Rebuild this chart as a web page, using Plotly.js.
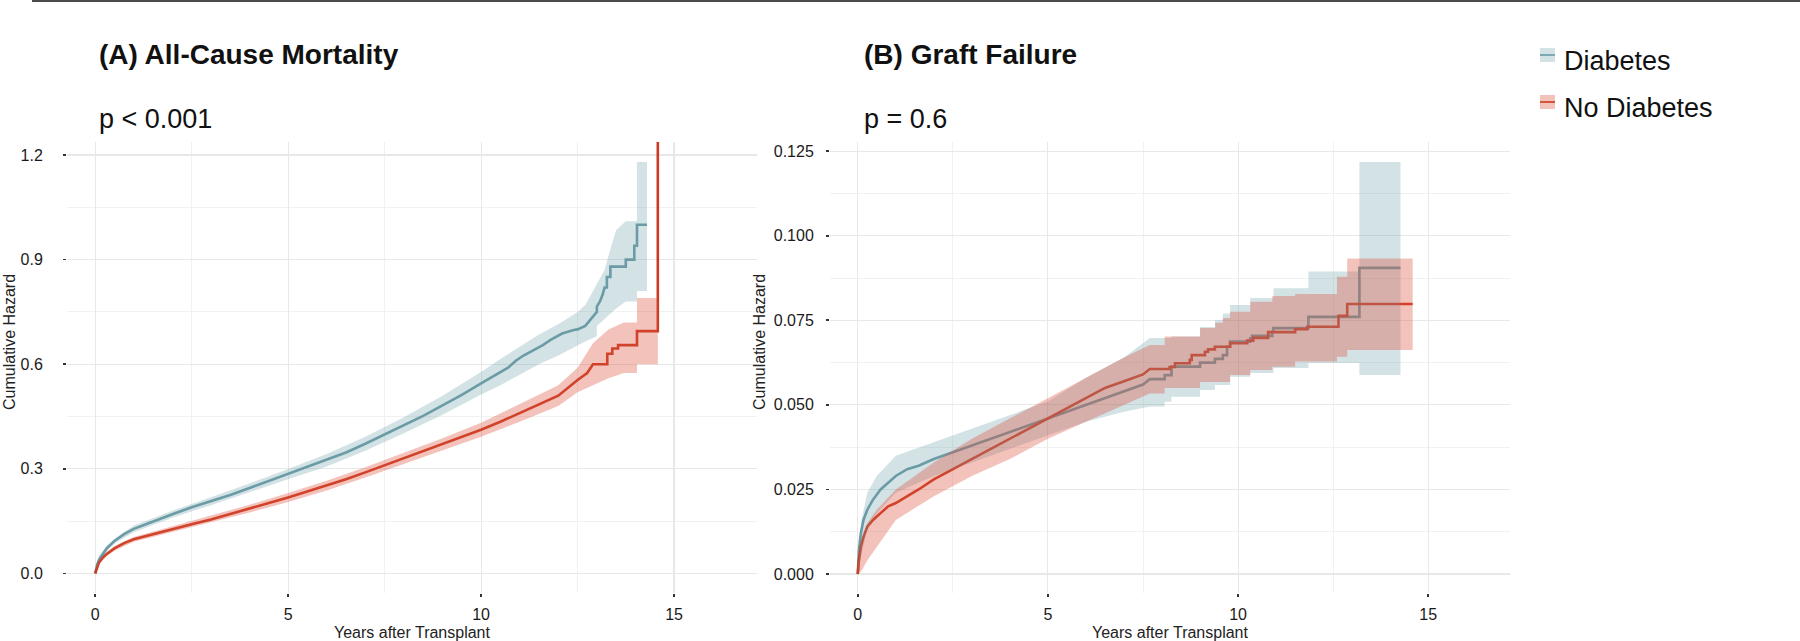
<!DOCTYPE html>
<html>
<head>
<meta charset="utf-8">
<script src="https://cdn.plot.ly/plotly-3.0.1.min.js"></script>
<style>
  html, body { margin: 0; padding: 0; background: #ffffff; }
  #chart { width: 1800px; height: 641px; }
</style>
</head>
<body>
<div id="chart"></div>
<script>
// ---------------- DATA ----------------
const groupLabels = ['Diabetes', 'No Diabetes'];
const panelTitles = ['(A) All-Cause Mortality', '(B) Graft Failure'];
const pValues = ['p < 0.001', 'p = 0.6'];
const xTickVals = [0, 5, 10, 15];
const yTickValsA = [0, 0.3, 0.6, 0.9, 1.2];
const yTickValsB = [0, 0.025, 0.05, 0.075, 0.1, 0.125];

// (A) All-cause mortality, Diabetes
const mortDiabT = [0,0.05,0.1,0.2,0.3,0.5,0.75,1,1.5,2,2.5,3,3.5,4,4.5,5,5.5,6,6.5,7,7.5,8,8.5,9,9.5,10,10.5,10.7,10.9,11.1,11.35,11.6,11.8,12.1,12.4,12.5,12.7,12.85,13.0,13.0,13.08,13.15,13.2,13.26,13.26,13.35,13.35,13.75,13.75,13.97,13.97,14.04,14.04,14.3];
const mortDiabH = [0,0.025,0.04,0.058,0.072,0.093,0.113,0.128,0.150,0.170,0.190,0.207,0.225,0.245,0.265,0.285,0.305,0.325,0.347,0.372,0.398,0.425,0.452,0.482,0.512,0.545,0.578,0.59,0.61,0.625,0.64,0.655,0.67,0.688,0.698,0.70,0.71,0.73,0.75,0.765,0.78,0.80,0.82,0.82,0.85,0.85,0.88,0.88,0.90,0.90,0.94,0.94,1.0,1.0];
const mortDiabLoT = [0,0.1,0.3,0.5,1,2,3,4,5,6,7,8,9,10,10.5,11,11.5,12,12.5,12.7,13.0,13.0,13.3,13.5,13.75,14.04,14.04,14.3];
const mortDiabLo  = [0,0.033,0.064,0.086,0.118,0.160,0.196,0.232,0.270,0.307,0.352,0.402,0.455,0.513,0.54,0.57,0.60,0.625,0.655,0.665,0.68,0.71,0.74,0.76,0.78,0.78,0.81,0.81];
const mortDiabHiT = [0,0.1,0.3,0.5,1,2,3,4,5,6,7,8,9,10,10.5,11,11.5,12,12.5,12.7,12.85,13.0,13.2,13.35,13.5,13.75,14.04,14.04,14.3];
const mortDiabHi  = [0,0.05,0.08,0.10,0.138,0.180,0.219,0.258,0.300,0.343,0.392,0.448,0.510,0.578,0.615,0.650,0.685,0.715,0.75,0.77,0.80,0.83,0.87,0.93,0.985,1.01,1.01,1.18,1.18];

// (A) All-cause mortality, No Diabetes
const mortNoT = [0,0.05,0.1,0.2,0.3,0.5,0.75,1,1.5,2,2.5,3,3.5,4,4.5,5,5.5,6,6.5,7,7.5,8,8.5,9,9.5,10,10.5,11,11.5,12,12.5,12.75,12.9,13.27,13.27,13.4,13.4,13.55,13.55,14.04,14.04,14.58,14.58];
const mortNoH = [0,0.02,0.032,0.046,0.056,0.072,0.087,0.098,0.113,0.127,0.141,0.155,0.170,0.186,0.202,0.218,0.235,0.252,0.270,0.290,0.310,0.330,0.350,0.370,0.390,0.412,0.435,0.46,0.485,0.51,0.555,0.575,0.60,0.60,0.63,0.63,0.645,0.645,0.655,0.655,0.695,0.695,1.6];
const mortNoLoT = [0,0.1,0.3,0.5,1,2,3,4,5,6,7,8,9,10,11,12,12.5,12.9,13.3,13.7,14.04,14.04,14.58];
const mortNoLo  = [0,0.026,0.05,0.065,0.091,0.119,0.145,0.175,0.205,0.238,0.275,0.314,0.352,0.392,0.435,0.48,0.52,0.54,0.56,0.575,0.575,0.60,0.60];
const mortNoHiT = [0,0.1,0.3,0.5,1,2,3,4,5,6,7,8,9,10,11,12,12.5,12.9,13.3,13.7,14.04,14.04,14.58];
const mortNoHi  = [0,0.038,0.062,0.079,0.105,0.135,0.165,0.197,0.231,0.266,0.305,0.346,0.388,0.432,0.485,0.54,0.59,0.66,0.70,0.72,0.72,0.79,0.79];

// (B) Graft failure, Diabetes
const graftDiabT = [0,0.03,0.08,0.15,0.25,0.4,0.6,0.8,1,1.3,1.6,2,2.5,3,3.5,4,4.5,5,5.5,6,6.5,7,7.5,7.68,8.07,8.07,8.25,8.25,9.0,9.0,9.39,9.39,9.6,9.6,9.71,9.71,9.79,9.79,10.32,10.32,10.37,10.37,10.9,10.9,10.93,10.93,11.85,11.85,13.19,13.19,14.27];
const graftDiabH = [0,0.007,0.012,0.016,0.019,0.022,0.025,0.027,0.029,0.031,0.032,0.034,0.036,0.038,0.040,0.042,0.044,0.046,0.048,0.050,0.052,0.054,0.056,0.0576,0.0576,0.0588,0.0588,0.0613,0.0613,0.0625,0.0625,0.0636,0.0636,0.0647,0.0647,0.0672,0.0672,0.0687,0.0687,0.0697,0.0697,0.0704,0.0704,0.0716,0.0716,0.0727,0.0727,0.0760,0.0760,0.0905,0.0905];
const graftDiabLoT = [0,0.1,0.25,0.5,1,2,3,4,5,6,7,7.68,8.07,8.07,8.25,8.25,9.0,9.0,9.39,9.39,9.79,9.79,10.32,10.32,10.93,10.93,11.85,11.85,13.19,13.19,14.27];
const graftDiabLo  = [0,0.006,0.013,0.018,0.024,0.029,0.033,0.037,0.041,0.045,0.048,0.0495,0.0495,0.0509,0.0509,0.0524,0.0524,0.0544,0.0544,0.0559,0.0559,0.0583,0.0583,0.0594,0.0594,0.0609,0.0609,0.0624,0.0624,0.0588,0.0588];
const graftDiabHiT = [0,0.1,0.25,0.5,1,2,3,4,5,6,7,7.68,8.25,8.25,9.0,9.0,9.39,9.39,9.6,9.6,9.79,9.79,10.32,10.32,10.93,10.93,11.85,11.85,13.19,13.19,14.27];
const graftDiabHi  = [0,0.016,0.024,0.029,0.035,0.039,0.043,0.047,0.051,0.058,0.064,0.0698,0.0698,0.0702,0.0702,0.073,0.073,0.075,0.075,0.077,0.077,0.0795,0.0795,0.0816,0.0816,0.0845,0.0845,0.0894,0.0894,0.1218,0.1218];

// (B) Graft failure, No Diabetes
const graftNoT = [0,0.03,0.08,0.15,0.25,0.4,0.6,0.8,1,1.3,1.6,2,2.5,3,3.5,4,4.5,5,5.5,6,6.5,7,7.5,7.68,8.2,8.2,8.34,8.34,8.73,8.73,8.78,8.78,9.13,9.13,9.21,9.21,9.39,9.39,9.79,9.79,10.24,10.24,10.4,10.4,10.79,10.79,11.5,11.5,11.82,11.82,12.64,12.64,12.87,12.87,14.59];
const graftNoH = [0,0.004,0.008,0.011,0.014,0.016,0.018,0.020,0.021,0.023,0.025,0.028,0.031,0.034,0.037,0.040,0.043,0.046,0.049,0.052,0.055,0.057,0.059,0.0606,0.0606,0.0612,0.0612,0.0623,0.0623,0.0633,0.0633,0.0647,0.0647,0.0657,0.0657,0.0664,0.0664,0.0672,0.0672,0.0682,0.0682,0.069,0.069,0.0698,0.0698,0.0715,0.0715,0.0724,0.0724,0.0731,0.0731,0.0763,0.0763,0.0798,0.0798];
const graftNoLoT = [0,0.1,0.25,0.5,1,2,3,4,5,6,7,7.68,8.07,8.07,9.0,9.0,9.79,9.79,10.32,10.32,10.9,10.9,11.5,11.5,12.6,12.6,12.87,12.87,14.59];
const graftNoLo  = [0,0.001,0.004,0.008,0.016,0.023,0.029,0.034,0.040,0.045,0.050,0.0534,0.0534,0.055,0.055,0.0568,0.0568,0.0588,0.0588,0.0603,0.0603,0.0613,0.0613,0.0628,0.0628,0.0642,0.0642,0.0662,0.0662];
const graftNoHiT = [0,0.1,0.25,0.5,1,2,3,4,5,6,7,7.68,8.07,8.07,9.0,9.0,9.4,9.4,9.6,9.6,9.79,9.79,10.32,10.32,10.9,10.9,11.5,11.5,12.6,12.6,12.87,12.87,14.59];
const graftNoHi  = [0,0.009,0.015,0.019,0.025,0.033,0.040,0.046,0.052,0.058,0.064,0.0677,0.0677,0.0702,0.0702,0.0727,0.0727,0.0743,0.0743,0.0757,0.0757,0.0775,0.0775,0.0805,0.0805,0.0822,0.0822,0.0828,0.0828,0.0879,0.0879,0.0933,0.0933];

// ---------------- STYLE ----------------
const W = 1800, H = 641;
const FONT = 'Liberation Sans, Arial, Helvetica, sans-serif';
const lineColors = ['#6a9ba5', '#cc3a20'];
const bandColors = ['rgba(110,160,170,0.30)', 'rgba(220,80,60,0.35)'];
const keyFill = ['#d3e2e5', '#f3c2bb'];
const px = v => v / W;
const py = v => 1 - v / H;

function lineTrace(x, y, xa, ya, c) {
  return { x, y, xaxis: xa, yaxis: ya, type: 'scatter', mode: 'lines',
    line: { color: c, width: 2.6 }, showlegend: false, hoverinfo: 'skip' };
}
function bandTraces(xl, yl, xh, yh, xa, ya, fc) {
  return [
    { x: xl, y: yl, xaxis: xa, yaxis: ya, type: 'scatter', mode: 'lines',
      line: { width: 0, color: 'rgba(0,0,0,0)' }, showlegend: false, hoverinfo: 'skip' },
    { x: xh, y: yh, xaxis: xa, yaxis: ya, type: 'scatter', mode: 'lines',
      line: { width: 0, color: 'rgba(0,0,0,0)' }, fill: 'tonexty', fillcolor: fc,
      showlegend: false, hoverinfo: 'skip' }
  ];
}

const traces = [
  lineTrace(mortDiabT, mortDiabH, 'x', 'y', lineColors[0]),
  lineTrace(mortNoT, mortNoH, 'x', 'y', lineColors[1]),
  ...bandTraces(mortDiabLoT, mortDiabLo, mortDiabHiT, mortDiabHi, 'x', 'y', bandColors[0]),
  ...bandTraces(mortNoLoT, mortNoLo, mortNoHiT, mortNoHi, 'x', 'y', bandColors[1]),
  lineTrace(graftDiabT, graftDiabH, 'x2', 'y2', lineColors[0]),
  lineTrace(graftNoT, graftNoH, 'x2', 'y2', lineColors[1]),
  ...bandTraces(graftDiabLoT, graftDiabLo, graftDiabHiT, graftDiabHi, 'x2', 'y2', bandColors[0]),
  ...bandTraces(graftNoLoT, graftNoLo, graftNoHiT, graftNoHi, 'x2', 'y2', bandColors[1])
];

const gridMajor = '#e8e8e8', gridMinor = '#f1f1f1';
function xAxis(domain, anchor) {
  return {
    domain, anchor, range: [-0.73, 17.15], tickvals: xTickVals, ticktext: xTickVals.map(String),
    showgrid: true, gridcolor: gridMajor, gridwidth: 1.1, zeroline: false, showline: false,
    ticks: 'outside', ticklen: 3, tickwidth: 1.6, tickcolor: '#333', ticklabelstandoff: 4,
    tickfont: { family: FONT, size: 16, color: '#1a1a1a' },
    minor: { dtick: 2.5, tick0: 0, showgrid: true, gridcolor: gridMinor, gridwidth: 1, ticks: '' },
    fixedrange: true
  };
}
function yAxis(domain, anchor, range, tickvals, fmt, minorDt, standoff) {
  return {
    domain, anchor, range, tickvals, tickformat: fmt,
    showgrid: true, gridcolor: gridMajor, gridwidth: 1.1, zeroline: false, showline: false,
    ticks: 'outside', ticklen: 3, tickwidth: 1.6, tickcolor: '#333', ticklabelstandoff: standoff,
    tickfont: { family: FONT, size: 16, color: '#1a1a1a' },
    minor: { dtick: minorDt, tick0: 0, showgrid: true, gridcolor: gridMinor, gridwidth: 1, ticks: '' },
    fixedrange: true
  };
}

const yDom = [py(593), py(142)];

const annotations = [];
function addText(text, x, y, size, opts) {
  annotations.push(Object.assign({ text, x: px(x), y: py(y), xref: 'paper', yref: 'paper',
    showarrow: false, xanchor: 'left', yanchor: 'middle',
    font: { family: FONT, size, color: '#111' } }, opts || {}));
}
// panel titles & p-values
addText(panelTitles[0], 97, 54, 28, { font: { family: FONT, size: 28, color: '#111', weight: 'bold' } });
addText(pValues[0], 97, 119, 27);
addText(panelTitles[1], 862, 54, 28, { font: { family: FONT, size: 28, color: '#111', weight: 'bold' } });
addText(pValues[1], 862, 119, 27);
// axis titles
addText('Cumulative Hazard', 9, 342, 16, { xanchor: 'center', textangle: -90, font: { family: FONT, size: 16, color: '#222' } });
addText('Cumulative Hazard', 759, 342, 16, { xanchor: 'center', textangle: -90, font: { family: FONT, size: 16, color: '#222' } });
addText('Years after Transplant', 412, 632, 16, { xanchor: 'center', font: { family: FONT, size: 16, color: '#222' } });
addText('Years after Transplant', 1170, 632, 16, { xanchor: 'center', font: { family: FONT, size: 16, color: '#222' } });
// legend labels
addText(groupLabels[0], 1562, 61, 27);
addText(groupLabels[1], 1562, 108, 27);

const shapes = [
  { type: 'line', xref: 'paper', yref: 'paper', x0: px(32), x1: 1, y0: py(1), y1: py(1),
    line: { color: '#4a4a4a', width: 2 } }
];
const keyCenters = [55, 102];
keyCenters.forEach((cy, i) => {
  shapes.push({ type: 'rect', xref: 'paper', yref: 'paper', x0: px(1540), x1: px(1555),
    y0: py(cy + 7), y1: py(cy - 7), fillcolor: keyFill[i], line: { width: 0 } });
  shapes.push({ type: 'line', xref: 'paper', yref: 'paper', x0: px(1540), x1: px(1555),
    y0: py(cy), y1: py(cy), line: { color: lineColors[i], width: 1.6 } });
});

const layout = {
  width: W, height: H,
  margin: { l: 0, r: 0, t: 0, b: 0 },
  paper_bgcolor: '#ffffff', plot_bgcolor: '#ffffff',
  showlegend: false,
  xaxis: xAxis([px(67), px(757)], 'y'),
  yaxis: yAxis(yDom, 'x', [-0.0559, 1.2373], yTickValsA, '.1f', 0.15, 17),
  xaxis2: xAxis([px(830), px(1510)], 'y2'),
  yaxis2: yAxis(yDom, 'x2', [-0.0056, 0.1277], yTickValsB, '.3f', 0.0125, 9),
  annotations, shapes
};

Plotly.newPlot('chart', traces, layout, { staticPlot: true, displayModeBar: false });
</script>
</body>
</html>
